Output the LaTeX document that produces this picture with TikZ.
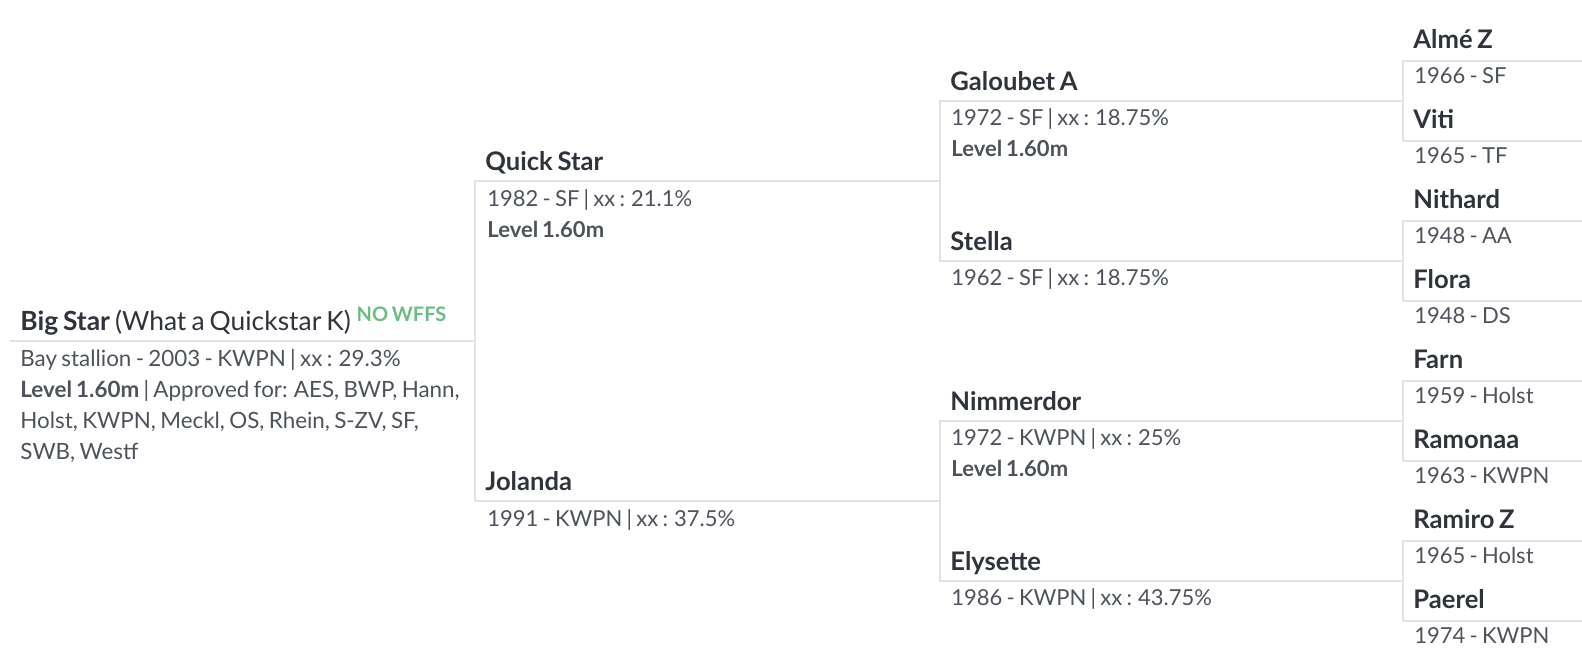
\documentclass[tikz,border=0pt]{standalone}
\usepackage{fontspec}
\setmainfont{Lato}[WordSpace=0.75]
\definecolor{namec}{HTML}{2F333C}
\definecolor{bodyc}{HTML}{4E535B}
\definecolor{linec}{HTML}{E2E2E2}
\definecolor{greenc}{HTML}{6DBB85}
\tikzset{
  bline/.style={draw=linec, line width=1pt},
  nm/.style={anchor=base west, inner sep=0pt, text=namec, font=\fontsize{12.8}{15}\selectfont\bfseries},
  bignm/.style={anchor=base west, inner sep=0pt, text=namec, font=\fontsize{13.2}{16}\selectfont},
  bd/.style={anchor=base west, inner sep=0pt, text=bodyc, font=\fontsize{11}{13}\selectfont},
  bigbd/.style={bd, font=\fontsize{11.2}{13}\selectfont},
  bdb/.style={bd, font=\fontsize{11}{13}\selectfont\bfseries},
  tag/.style={anchor=base west, inner sep=0pt, text=greenc, font=\fontsize{10}{12}\selectfont\bfseries}
}
\begin{document}
\begin{tikzpicture}[x=0.5pt,y=-0.5pt]
\useasboundingbox (0,0) rectangle (1582,664);
% coordinates of bracket lines
\coordinate (r0) at (10,340.5);
\coordinate (v0) at (475,340.5);
\coordinate (g1a) at (475,180.5); \coordinate (g1ae) at (940,180.5);
\coordinate (g1b) at (475,500.5); \coordinate (g1be) at (940,500.5);
\coordinate (g2a) at (940,100.5); \coordinate (g2ae) at (1403,100.5);
\coordinate (g2b) at (940,260.5); \coordinate (g2be) at (1403,260.5);
\coordinate (g2c) at (940,420.5); \coordinate (g2ce) at (1403,420.5);
\coordinate (g2d) at (940,580.5); \coordinate (g2de) at (1403,580.5);
\foreach \i/\y in {a/60.5,b/140.5,c/220.5,d/300.5,e/380.5,f/460.5,g/540.5,h/620.5}{
  \coordinate (g3\i) at (1403,\y); \coordinate (g3\i e) at (1582,\y);
}
% lines
\draw[bline] (r0) -- (v0);
\draw[bline] (g1ae) -- (g1a) -- (g1b) -- (g1be);
\draw[bline] (g2ae) -- (g2a) -- (g2b) -- (g2be);
\draw[bline] (g2ce) -- (g2c) -- (g2d) -- (g2de);
\draw[bline] (g3ae) -- (g3a) -- (g3b) -- (g3be);
\draw[bline] (g3ce) -- (g3c) -- (g3d) -- (g3de);
\draw[bline] (g3ee) -- (g3e) -- (g3f) -- (g3fe);
\draw[bline] (g3ge) -- (g3g) -- (g3h) -- (g3he);
% Big Star
\node[bignm] (bs) at (20,330) {\textbf{Big Star} (What a Quickstar K)};
\node[tag] (nowffs) at ([xshift=2.5pt,yshift=4.2pt]bs.base east) {NO WFFS};
\node[bigbd] (bs1) at (20,366) {Bay stallion - 2003 - KWPN | xx : 29.3\%};
\node[bigbd] (bs2) at (20,397) {\textbf{Level 1.60m} | Approved for: AES, BWP, Hann,};
\node[bigbd] (bs3) at (20,428) {Holst, KWPN, Meckl, OS, Rhein, S-ZV, SF,};
\node[bigbd] (bs4) at (20,459) {SWB, Westf};
% generation 1
\node[nm] (qs) at (485,170) {Quick Star};
\node[bd] (qs1) at (487,206.5) {1982 - SF | xx : 21.1\%};
\node[bdb] (qs2) at (487,237.5) {Level 1.60m};
\node[nm] (jo) at (485,490) {Jolanda};
\node[bd] (jo1) at (487,526) {1991 - KWPN | xx : 37.5\%};
% generation 2
\node[nm] (ga) at (950,90) {Galoubet A};
\node[bd] (ga1) at (951,125) {1972 - SF | xx : 18.75\%};
\node[bdb] (ga2) at (951,156) {Level 1.60m};
\node[nm] (st) at (950,250) {Stella};
\node[bd] (st1) at (951,285) {1962 - SF | xx : 18.75\%};
\node[nm] (ni) at (950,410) {Nimmerdor};
\node[bd] (ni1) at (951,445) {1972 - KWPN | xx : 25\%};
\node[bdb] (ni2) at (951,476) {Level 1.60m};
\node[nm] (el) at (950,570) {Elysette};
\node[bd] (el1) at (951,605) {1986 - KWPN | xx : 43.75\%};
% generation 3
\node[nm] (al) at (1413,48.5) {Almé Z};
\node[bd] (al1) at (1414,83.5) {1966 - SF};
\node[nm] (vi) at (1413,128.5) {Viti};
\node[bd] (vi1) at (1414,163.5) {1965 - TF};
\node[nm] (nh) at (1413,208.5) {Nithard};
\node[bd] (nh1) at (1414,243.5) {1948 - AA};
\node[nm] (fl) at (1413,288.5) {Flora};
\node[bd] (fl1) at (1414,323.5) {1948 - DS};
\node[nm] (fa) at (1413,368.5) {Farn};
\node[bd] (fa1) at (1414,403.5) {1959 - Holst};
\node[nm] (ra) at (1413,448.5) {Ramonaa};
\node[bd] (ra1) at (1414,483.5) {1963 - KWPN};
\node[nm] (rz) at (1413,528.5) {Ramiro Z};
\node[bd] (rz1) at (1414,563.5) {1965 - Holst};
\node[nm] (pa) at (1413,608.5) {Paerel};
\node[bd] (pa1) at (1414,643.5) {1974 - KWPN};
\end{tikzpicture}
\end{document}
